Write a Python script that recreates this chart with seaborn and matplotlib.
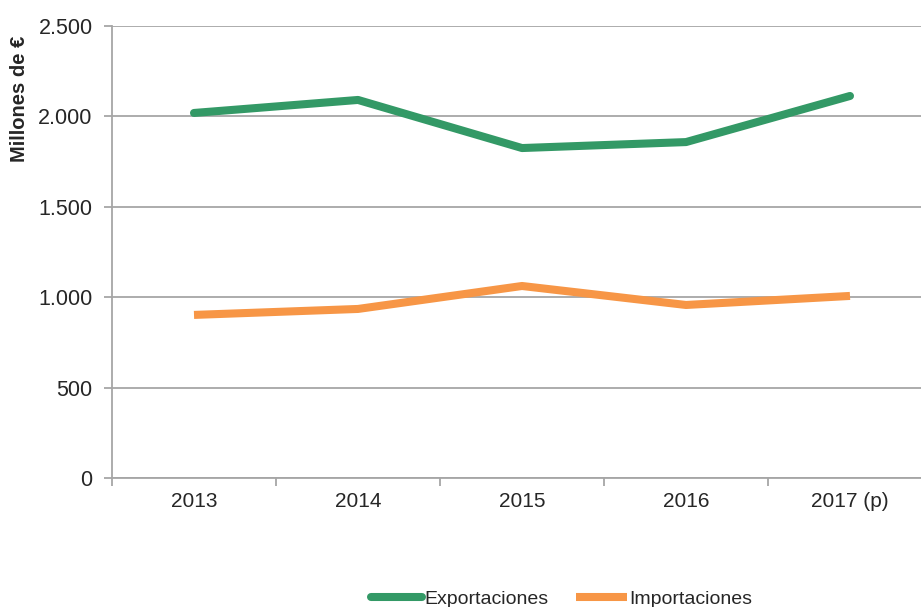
import numpy as np
import pandas as pd
import matplotlib
matplotlib.use('Agg')
import matplotlib.pyplot as plt
import seaborn as sns

# Datos (millones de euros)
years = ['2013', '2014', '2015', '2016', '2017 (p)']
exportaciones = [2019, 2091, 1825, 1858, 2113]
importaciones = [902, 935, 1062, 957, 1007]

df = pd.DataFrame({
    'Año': years * 2,
    'Valor': exportaciones + importaciones,
    'Serie': ['Exportaciones'] * len(years) + ['Importaciones'] * len(years),
})

sns.set_style('white')
plt.rcParams['font.family'] = ['Liberation Sans', 'DejaVu Sans']

fig = plt.figure(figsize=(9.21, 6.07), dpi=100)
ax = fig.add_axes([112 / 921, 1 - 478 / 607, 820 / 921, 452 / 607])

palette = {'Exportaciones': '#339966', 'Importaciones': '#F79646'}
sns.lineplot(data=df, x='Año', y='Valor', hue='Serie', palette=palette,
             linewidth=5.8, ax=ax, legend=False, sort=False)

ax.lines[0].set_solid_capstyle('round')
ax.lines[1].set_solid_capstyle('butt')

grid_col = '#a6a6a6'
ax.set_ylim(0, 2500)
ax.set_yticks(np.arange(0, 2501, 500))
ax.set_yticklabels([f'{v:,}'.replace(',', '.') for v in range(0, 2501, 500)])
ax.yaxis.grid(True, color=grid_col, linewidth=1.3)
ax.set_axisbelow(True)

ax.set_xlim(-0.5, 4.5)
ax.set_xticks(range(len(years)))
ax.set_xticks(np.arange(-0.5, 5, 1), minor=True)
ax.tick_params(axis='x', which='major', bottom=True, length=0, pad=10, labelsize=15)
ax.tick_params(axis='x', which='minor', bottom=True, length=6, width=1.3,
               color=grid_col, direction='out')
ax.tick_params(axis='y', left=True, length=6, width=1.3, color=grid_col,
               direction='out', pad=8, labelsize=15.5)

for s in ['top', 'right']:
    ax.spines[s].set_visible(False)
for s in ['left', 'bottom']:
    ax.spines[s].set_color(grid_col)
    ax.spines[s].set_linewidth(1.3)

ax.set_xlabel('')
ax.set_ylabel('Millones de €', fontsize=14.5, fontweight='bold')
ax.yaxis.set_label_coords((29 - 112) / 820, (478 - 99) / 452)

handles = [plt.Line2D([], [], color=palette['Exportaciones'], lw=5.8, solid_capstyle='round'),
           plt.Line2D([], [], color=palette['Importaciones'], lw=5.8, solid_capstyle='butt')]
fig.legend(handles, ['Exportaciones', 'Importaciones'], loc='center',
           bbox_to_anchor=(0.61, 0.013), ncol=2, frameon=False, fontsize=14,
           handlelength=2.6, handletextpad=0.15, columnspacing=1.4)

fig.savefig('out.png', dpi=100)
